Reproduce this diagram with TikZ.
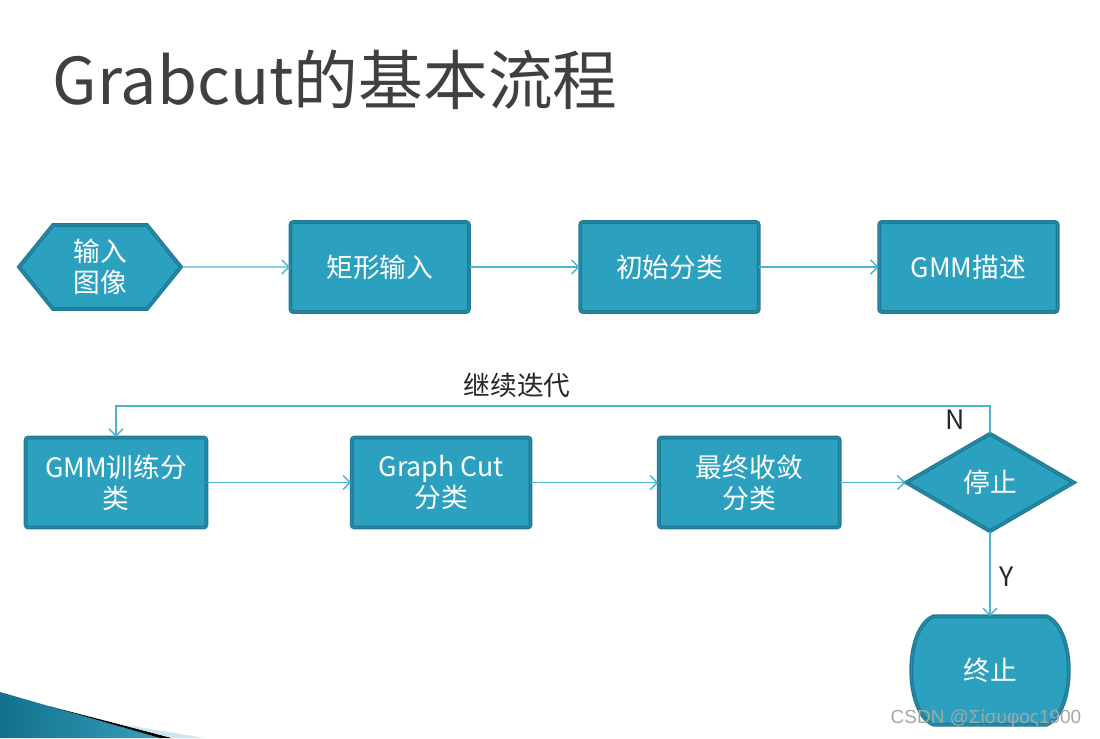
\documentclass[tikz,border=0pt]{standalone}
\usepackage{fontspec}
\setmainfont{Noto Sans CJK SC}
\newfontfamily\wmfont{Liberation Sans}
\usepackage{tikz}
\usetikzlibrary{arrows.meta,positioning,shapes.geometric,shapes.symbols}
\pgfdeclarelayer{background}
\pgfsetlayers{background,main}
\definecolor{boxfill}{RGB}{44,161,191}
\definecolor{boxedge}{RGB}{31,121,146}
\definecolor{boxinner}{RGB}{38,140,168}
\definecolor{linkcol}{RGB}{74,179,210}
\definecolor{titlegray}{RGB}{64,64,64}
\definecolor{decodark}{RGB}{18,112,140}
\definecolor{decolight}{RGB}{52,160,190}

\begin{document}
\begin{tikzpicture}[
  x=0.025cm, y=-0.025cm,
  edge/.style={draw=boxedge, line width=0.9pt, double=boxinner, double distance=0.9pt,
              fill=boxfill},
  box/.style={edge, rounded corners=2pt, align=center, text=white,
              minimum width=4.46cm, minimum height=2.25cm, inner sep=2pt,
              font=\fontsize{19}{22}\selectfont},
  hexbox/.style={box, rounded corners=0pt, shape=signal, signal to=west and east,
              signal pointer angle=102, minimum width=4.05cm, minimum height=2.1cm},
  decision/.style={box, rounded corners=0pt, shape=diamond, aspect=1.72,
              minimum width=4.2cm, minimum height=2.45cm, inner sep=0pt},
  terminal/.style={align=center, text=white, font=\fontsize{19}{22}\selectfont,
              minimum width=2.8cm, minimum height=2.7cm},
  arr/.style={-{Straight Barb[length=5pt,width=10pt]}, draw=linkcol, line width=1pt},
  lbl/.style={text=black!85, font=\fontsize{19}{22}\selectfont}
]
\useasboundingbox (0,0) rectangle (1100,738);

% title
\node[anchor=west, text=titlegray, font=\fontsize{46}{50}\selectfont] (title) at (48,80)
  {Grabcut的基本流程};

% first row
\node[hexbox] (img) at (100,267) {输入\\图像};
\node[box, right=2.7cm of img] (rect) {矩形输入};
\node[box, right=2.75cm of rect] (init) {初始分类};
\node[box, right=2.98cm of init] (desc) {GMM描述};

% second row
\node[box, minimum width=4.52cm] (train) at (116,482.5) {GMM训练分\\类};
\node[box, minimum width=4.47cm, right=3.6cm of train] (gcut) {Graph Cut\\分类};
\node[box, minimum width=4.52cm, right=3.175cm of gcut] (conv) {最终收敛\\分类};
\node[decision, right=1.625cm of conv] (stop) {停止};
\node[terminal, below=2.1cm of stop] (fin) {终止};
\begin{pgfonlayer}{background}
  \draw[edge, line join=round] (fin.north west) -- (fin.north east)
    .. controls +(30,12) and +(30,-12) .. (fin.south east) -- (fin.south west)
    .. controls +(-30,-12) and +(-30,12) .. (fin.north west) -- cycle;
\end{pgfonlayer}

\coordinate (turn) at (550,406);
\node[lbl] (iter) at (517,385) {继续迭代};
\node[lbl] (no) at (955,420) {N};
\node[lbl] (yes) at (1007,577) {Y};

\draw[arr] (img) -- (rect);
\draw[arr] (rect) -- (init);
\draw[arr] (init) -- (desc);
\draw[arr] (train) -- (gcut);
\draw[arr] (gcut) -- (conv);
\draw[arr] (conv) -- (stop);
\draw[arr] (stop.north) |- (turn) -| (train.north);
\draw[arr] (stop) -- (fin);

% slide corner
\shade[left color=decodark, right color=decolight] (0,692) -- (160,738) -- (0,738) -- cycle;
\fill[black] (50,706.4) -- (172,738) -- (160,738) -- cycle;
\fill[decolight!25] (120,724) -- (205,738) -- (172,738) -- cycle;

\node[text=black!35, font=\wmfont\fontsize{13.5}{15}\selectfont] (csdn) at (986,718)
  {CSDN @Σίσυφος1900};
\end{tikzpicture}
\end{document}
